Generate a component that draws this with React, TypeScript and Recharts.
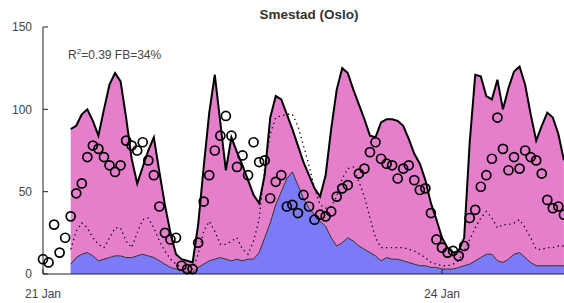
import React from "react";
import { ComposedChart, Area, Line, XAxis, YAxis } from "recharts";

document.body.style.margin = "0";

// hour index from 21 Jan 00:00
const hours = [
  0, 1, 2, 3, 4, 5, 6, 7, 8, 9, 10, 11, 12, 13, 14, 15, 16, 17, 18, 19, 20, 21, 22, 23,
  24, 25, 26, 27, 28, 29, 30, 31, 32, 33, 34, 35, 36, 37, 38, 39, 40, 41, 42, 43, 44, 45, 46, 47,
  48, 49, 50, 51, 52, 53, 54, 55, 56, 57, 58, 59, 60, 61, 62, 63, 64, 65, 66, 67, 68, 69, 70, 71,
  72, 73, 74, 75, 76, 77, 78, 79, 80, 81, 82, 83, 84, 85, 86, 87, 88, 89, 90, 91, 92, 93, 94,
];

// modelled total (pink)
const modelTotal = [
  null, null, null, null, null, 88, 90, 97, 100, 93, 84, 100, 115, 122, 117, 95, 70, 55, 65, 75, 83, 62, 42, 25,
  12, 9, 8, 7, 30, 65, 98, 121, 92, 63, 83, 74, 66, 57, 48, 43, 60, 95, 108, 106, 97, 88, 78, 68,
  60, 52, 47, 60, 88, 112, 125, 122, 112, 103, 94, 84, 83, 92, 94, 94, 93, 90, 82, 73, 67, 57, 43, 33,
  22, 16, 13, 14, 22, 80, 121, 120, 108, 106, 118, 100, 113, 123, 126, 115, 97, 81, 90, 98, 95, 85, 69,
];

// modelled local contribution (blue)
const modelLocal = [
  null, null, null, null, null, 6, 10, 12, 13, 11, 8, 9, 10, 11, 11, 10, 10, 11, 12, 11, 10, 8, 6, 4,
  3, 2, 1, 1, 4, 6, 8, 9, 10, 9, 8, 9, 8, 9, 9, 13, 22, 31, 42, 50, 58, 62, 54, 46,
  40, 36, 32, 29, 22, 17, 19, 22, 20, 17, 15, 13, 11, 8, 10, 9, 9, 8, 7, 6, 5, 5, 4, 4,
  3, 3, 3, 4, 5, 6, 8, 10, 12, 12, 8, 7, 9, 12, 13, 10, 7, 5, 5, 5, 5, 5, 5,
];

// dotted model line
const modelDotted = [
  null, null, null, null, null, 15, 26, 31, 28, 22, 18, 16, 22, 28, 28, 20, 16, 25, 33, 34, 28, 20, 14, 9,
  6, 4, 3, 3, 12, 26, 32, 26, 18, 18, 20, 22, 15, 12, 20, 33, 65, 85, 95, 96, 97, 97, 90, 78,
  66, 52, 42, 40, 41, 47, 58, 64, 65, 56, 47, 34, 22, 16, 16, 16, 16, 16, 15, 14, 12, 10, 7, 6,
  5, 5, 6, 8, 14, 21, 28, 34, 38, 34, 28, 30, 30, 31, 33, 28, 22, 15, 15, 16, 16, 17, 17,
];

// observations (circles)
const observed = [
  9, 7, 30, 13, 22, 35, 49, 55, 71, 78, 76, 71, 66, 62, 66, 81, 78, 75, 80, 69, 60, 41, 25, 21,
  22, 5, 3, 3, 19, 44, 60, 75, 84, 96, 84, 65, 72, 60, 80, 68, 69, 46, 56, 60, 41, 42, 37, 48,
  41, 33, 36, 35, 38, 47, 52, 54, null, 61, 64, 74, 80, 70, 67, 66, 58, 64, 66, 57, 51, 52, 37, 21,
  16, 13, 14, 11, 17, 34, 39, 53, 60, 70, 95, 76, 63, 71, 64, 75, 71, 69, 61, 45, 40, 41, 36,
];

const yTicks = [0, 50, 100, 150];
const xTicks = [0, 72];
const xTickLabels: Record<number, string> = { 0: "21 Jan", 72: "24 Jan" };

const rows = hours.map((h, i) => ({
  h,
  total: modelTotal[i],
  local: modelLocal[i],
  dotted: modelDotted[i],
  obs: observed[i],
}));

const FONT = "'Liberation Sans', Arial, sans-serif";
const AXIS = "#222";
const tickStyle = { fontSize: 12, fill: "#444", fontFamily: FONT };

export default function App() {
  return (
    <div
      style={{
        position: "relative",
        width: 564,
        height: 303,
        overflow: "hidden",
        background: "#fff",
        fontFamily: FONT,
      }}
    >
      <ComposedChart
        width={600}
        height={303}
        data={rows}
        margin={{ top: 27, right: 25, bottom: 0, left: 0 }}
      >
        <XAxis
          dataKey="h"
          type="number"
          domain={[0, 96]}
          ticks={xTicks}
          tickFormatter={(v: number) => xTickLabels[v] ?? ""}
          height={29}
          tickSize={-5}
          tickMargin={20}
          tick={tickStyle}
          axisLine={{ stroke: AXIS }}
          tickLine={{ stroke: AXIS }}
        />
        <XAxis
          xAxisId="top"
          orientation="top"
          dataKey="h"
          type="number"
          domain={[0, 96]}
          ticks={[72]}
          height={0}
          tickSize={-5}
          tick={false}
          axisLine={{ stroke: AXIS }}
          tickLine={{ stroke: AXIS }}
        />
        <YAxis
          type="number"
          domain={[0, 150]}
          ticks={yTicks}
          width={43}
          tickSize={-5}
          tickMargin={16}
          tick={tickStyle}
          axisLine={{ stroke: AXIS }}
          tickLine={{ stroke: AXIS }}
        />
        <YAxis
          yAxisId="right"
          orientation="right"
          type="number"
          domain={[0, 150]}
          width={0}
          tick={false}
          tickLine={false}
          axisLine={{ stroke: AXIS }}
        />
        <Area
          dataKey="total"
          type="linear"
          fill="#E67FCB"
          fillOpacity={1}
          stroke="#000"
          strokeWidth={2}
          isAnimationActive={false}
          activeDot={false}
        />
        <Area
          dataKey="local"
          type="linear"
          fill="#7B7BF7"
          fillOpacity={1}
          stroke="#333"
          strokeWidth={1}
          isAnimationActive={false}
          activeDot={false}
        />
        <Line
          dataKey="dotted"
          type="linear"
          stroke="#000"
          strokeWidth={1.3}
          strokeDasharray="1.3 3.5"
          dot={false}
          activeDot={false}
          isAnimationActive={false}
        />
        <Line
          dataKey="obs"
          type="linear"
          stroke="none"
          dot={{ r: 4.5, stroke: "#000", strokeWidth: 1.7, fill: "none" }}
          activeDot={false}
          isAnimationActive={false}
        />
      </ComposedChart>
      <div
        style={{
          position: "absolute",
          left: 43,
          width: 532,
          top: 7,
          textAlign: "center",
          fontSize: 13.5,
          fontWeight: "bold",
          color: "#333",
          lineHeight: "16px",
        }}
      >
        Smestad (Oslo)
      </div>
      <div
        style={{
          position: "absolute",
          left: 68,
          top: 48,
          fontSize: 12,
          color: "#444",
          lineHeight: "14px",
          whiteSpace: "nowrap",
        }}
      >
        R<span style={{ fontSize: 8, position: "relative", top: -5 }}>2</span>=0.39 FB=34%
      </div>
    </div>
  );
}
